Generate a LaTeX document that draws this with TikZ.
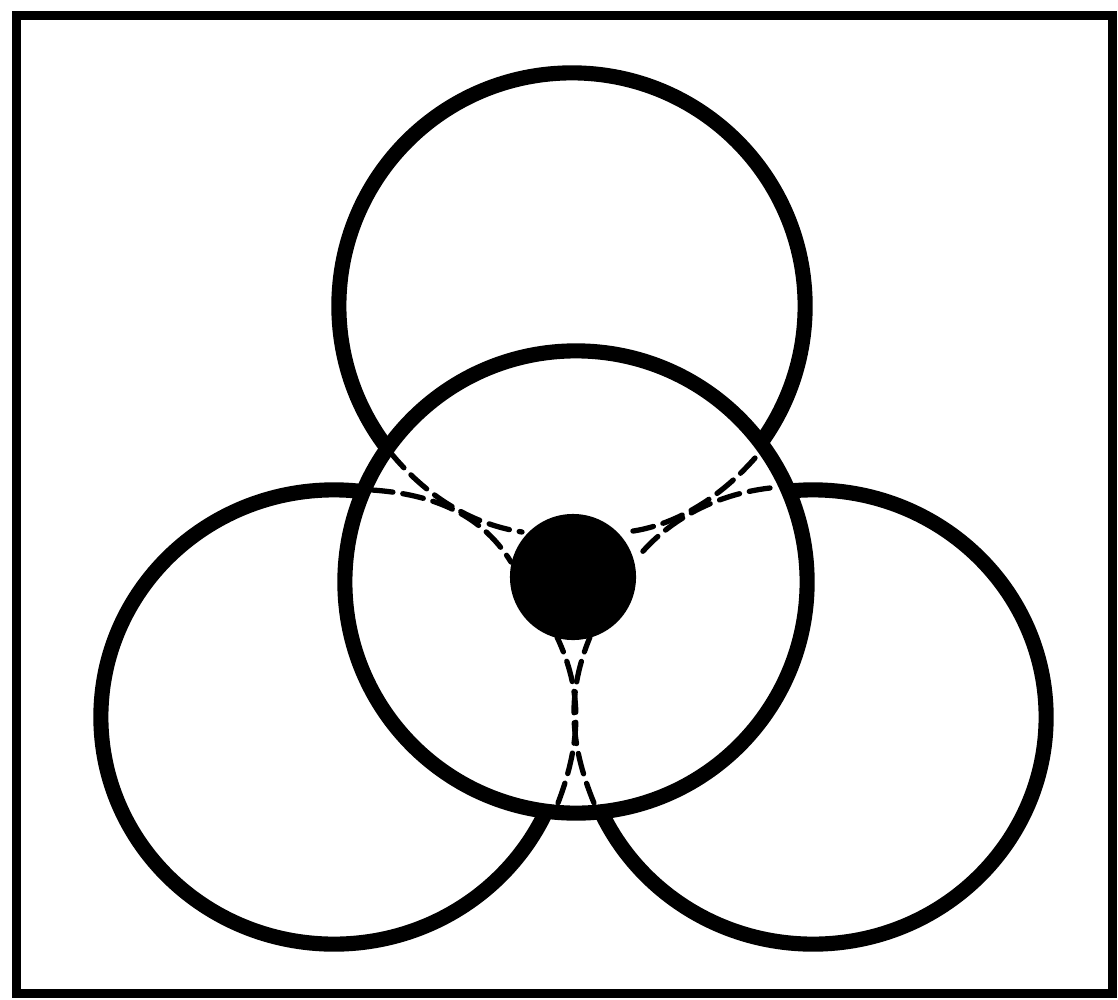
\documentclass[tikz,border=0pt]{standalone}
\usetikzlibrary{shapes.geometric}
\begin{document}
\begin{tikzpicture}[x=0.01cm,y=-0.01cm,
  ring/.style={draw=black,line width=4.3pt,ellipse,inner sep=0pt},
  frame/.style={draw=black,line width=2.5pt},
  dashcurve/.style={draw=black,line width=1.5pt,dash pattern=on 0.21cm off 0.1cm,line cap=round}]
\useasboundingbox (0,0) rectangle (1118,1000);
\fill[white] (0,0) rectangle (1118,1000);
\node[frame,rectangle,minimum width=10.95cm,minimum height=9.77cm,inner sep=0pt] (frm) at (564.5,504.5) {};
% outer circles
\node[ring,minimum width=4.66cm,minimum height=4.66cm] (top) at (572,306) {};
\node[ring,minimum width=4.66cm,minimum height=4.54cm] (left) at (334,717) {};
\node[ring,minimum width=4.66cm,minimum height=4.54cm] (right) at (813,717) {};
% central circle, covering the inner parts of the others
\node[ring,fill=white,minimum width=4.62cm,minimum height=4.62cm] (mid) at (576,582) {};
% central dot
\node[fill=black,circle,minimum size=1.26cm,inner sep=0pt] (dot) at (573,577) {};
% dashed curves
\coordinate (ulA) at (390,452);
\coordinate (ulB) at (372,490);
\coordinate (urA) at (755,458);
\coordinate (urB) at (770,488);
\coordinate (bA) at (558,803);
\coordinate (bB) at (594,803);
\coordinate (d1) at (522,532);
\coordinate (d2) at (511,562);
\coordinate (d3) at (625,532);
\coordinate (d4) at (638,557);
\coordinate (d5) at (557,637);
\coordinate (d6) at (590,637);
\draw[dashcurve] (ulA) .. controls (425,495) and (470,524) .. (d1);
\draw[dashcurve] (ulB) .. controls (430,494) and (480,512) .. (d2);
\draw[dashcurve] (urA) .. controls (710,509) and (660,529) .. (d3);
\draw[dashcurve] (urB) .. controls (710,495) and (665,524) .. (d4);
\draw[dashcurve] (bA) .. controls (582,740) and (582,690) .. (d5);
\draw[dashcurve] (bB) .. controls (568,740) and (568,690) .. (d6);
\end{tikzpicture}
\end{document}
